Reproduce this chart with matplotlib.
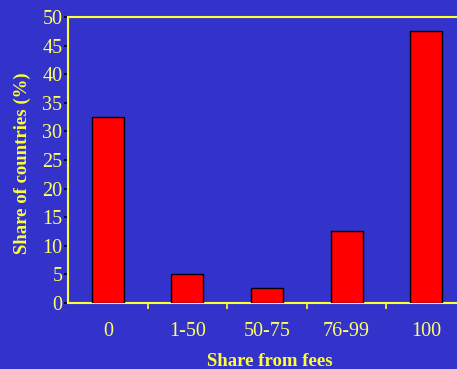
import numpy as np
import matplotlib
matplotlib.use("Agg")
import matplotlib.pyplot as plt
from matplotlib.ticker import FixedLocator

BG = "#3333CC"
YELLOW = "#FFFF33"
LABEL_YELLOW = "#FFFF66"

categories = ["0", "1-50", "50-75", "76-99", "100"]
share = [32.6, 5.0, 2.6, 12.6, 47.5]
y_ticks = [0, 5, 10, 15, 20, 25, 30, 35, 40, 45, 50]

plt.rcParams["font.family"] = ["Liberation Serif", "DejaVu Serif"]

fig = plt.figure(figsize=(4.57, 3.69), dpi=100, facecolor=BG)
# plot area runs slightly past the right edge of the canvas
ax = fig.add_axes([68 / 457, 1 - 303 / 369, (466 - 68) / 457, (303 - 17) / 369])
ax.set_facecolor(BG)

x = np.arange(len(categories))
ax.bar(x, share, width=0.4, color="#FF0000", edgecolor="black", linewidth=1.0, zorder=3)

ax.set_xlim(-0.5, len(categories) - 0.5)
ax.set_ylim(0, 50)

ax.set_xticks(x)
ax.set_xticklabels(categories)
ax.xaxis.set_minor_locator(FixedLocator(np.arange(0.5, len(categories) - 0.5, 1.0)))
ax.tick_params(axis="x", which="major", length=0, pad=14, labelsize=14.5, labelcolor=LABEL_YELLOW)
ax.tick_params(axis="x", which="minor", length=4, width=1.2, color=YELLOW, direction="out")

ax.set_yticks(y_ticks)
ax.tick_params(axis="y", length=3, width=1.2, color="black", direction="out",
               pad=1, labelsize=14.5, labelcolor=LABEL_YELLOW)

for side in ["left", "bottom", "top"]:
    ax.spines[side].set_color(YELLOW)
    ax.spines[side].set_linewidth(1.5)
ax.spines["right"].set_visible(False)

ax.set_xlabel("Share from fees", fontsize=13.5, fontweight="bold", color=YELLOW, va="center")
ax.xaxis.set_label_coords((270 - 68) / 398, -(361 - 303) / 286)
ax.set_ylabel("Share of countries (%)", fontsize=13.5, fontweight="bold", color=YELLOW, va="center")
ax.yaxis.set_label_coords(-(68 - 22) / 398, (303 - 163) / 286)

fig.savefig("out.png", dpi=100, facecolor=BG)
